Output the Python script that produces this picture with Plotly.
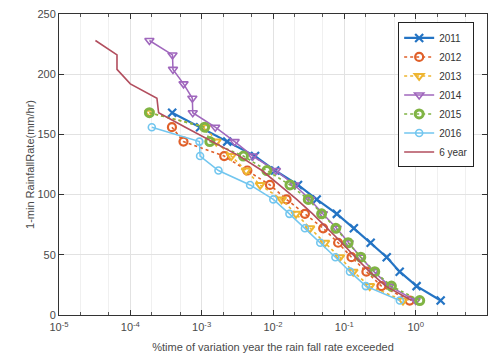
import plotly.graph_objects as go

rain_rate = [168, 156, 144, 132, 120, 108, 96, 84, 72, 60, 48, 36, 24, 12]

pct_2011 = [3.86e-4, 9.5e-4, 2.28e-3, 5.6e-3, 0.0107, 0.0224, 0.041, 0.0785, 0.136, 0.234, 0.393, 0.597, 1.03, 2.24]

rate_2012 = [156, 144, 132, 120, 108, 96, 84, 72, 60, 48, 36, 24, 12]
pct_2012 = [3.83e-4, 5.56e-4, 2.07e-3, 4.37e-3, 9.07e-3, 0.0155, 0.028, 0.0505, 0.0818, 0.126, 0.204, 0.331, 0.824]

rate_2013 = [168, 156, 144, 132, 120, 108, 96, 84, 72, 60, 48, 36, 24, 12]
pct_2013 = [1.85e-4, 1.15e-3, 1.6e-3, 2.6e-3, 4.2e-3, 6.6e-3, 0.0132, 0.021, 0.0329, 0.0533, 0.0864, 0.133, 0.227, 0.664]

rate_2014 = [228, 216, 204, 192, 180, 168, 156, 144, 132, 120, 108, 96, 84, 72, 60, 48, 36, 24, 12]
pct_2014 = [1.85e-4, 3.9e-4, 3.96e-4, 5.57e-4, 7.4e-4, 7.5e-4, 1.55e-3, 2.9e-3, 5.2e-3, 0.011, 0.02, 0.033, 0.05, 0.078, 0.115, 0.17, 0.26, 0.43, 1.0]

rate_2015 = [168, 156, 144, 132, 120, 108, 96, 84, 72, 60, 48, 36, 24, 12]
pct_2015 = [1.85e-4, 1.1e-3, 1.3e-3, 3.85e-3, 8.2e-3, 0.0173, 0.0312, 0.048, 0.076, 0.113, 0.17, 0.267, 0.457, 1.14]

rate_2016 = [156, 144, 132, 120, 108, 96, 84, 72, 60, 48, 36, 24, 12]
pct_2016 = [2.0e-4, 9.3e-4, 9.5e-4, 1.72e-3, 4.77e-3, 0.0101, 0.017, 0.028, 0.046, 0.075, 0.12, 0.2, 0.6]

rate_6year = [228, 216, 204, 192, 180, 168, 156, 144, 132, 120, 108, 96, 84, 72, 60, 48, 36, 24, 12]
pct_6year = [3.24e-5, 6.5e-5, 6.5e-5, 1.0e-4, 2.36e-4, 2.49e-4, 5.9e-4, 1.4e-3, 3.4e-3, 7.0e-3, 0.0125, 0.0215, 0.036, 0.058, 0.092, 0.143, 0.225, 0.38, 0.88]

x_tick_vals = [1e-5, 1e-4, 1e-3, 1e-2, 1e-1, 1e0, 1e1]
x_tick_text = ["10<sup>-5</sup>", "10<sup>-4</sup>", "10<sup>-3</sup>", "10<sup>-2</sup>",
               "10<sup>-1</sup>", "10<sup>0</sup>", "10<sup>1</sup>"]
y_tick_vals = [0, 50, 100, 150, 200, 250]

fig = go.Figure()

def add(name, x, y, color, symbol, dash, width=1.5, msize=7, mlw=1.8):
    fig.add_trace(go.Scatter(
        x=x, y=y, name=name, mode="lines+markers" if symbol else "lines",
        line=dict(color=color, width=width, dash=dash),
        marker=dict(symbol=symbol or "circle", size=msize, color=color,
                    line=dict(color=color, width=mlw)),
    ))

add("2011", pct_2011, rain_rate, "#2474c4", "x-thin-open", "solid", width=2.2, msize=8, mlw=2.2)
add("2012", pct_2012, rate_2012, "#e0602a", "circle-open", "dot", width=1.6, msize=8, mlw=2.2)
add("2013", pct_2013, rate_2013, "#eeb530", "triangle-down-open", "dot", width=1.6, msize=8, mlw=2)
add("2014", pct_2014, rate_2014, "#a067bd", "triangle-down-open", "solid", width=1.5, msize=8, mlw=1.6)
add("2015", pct_2015, rate_2015, "#80b444", "circle-open", "dot", width=1.6, msize=8, mlw=3)
add("2016", pct_2016, rate_2016, "#72c6ef", "circle-open", "solid", width=1.5, msize=7, mlw=1.6)
add("6 year", pct_6year, rate_6year, "#b24e5e", None, "solid", width=1.6)

axis_font = dict(family="Liberation Sans, Arial, sans-serif", size=11, color="#4a4a4a")

fig.update_layout(
    width=489, height=358,
    margin=dict(l=59, r=2, t=14, b=43, autoexpand=False),
    paper_bgcolor="white", plot_bgcolor="white",
    font=axis_font,
    showlegend=True,
    legend=dict(x=0.97, y=0.972, xanchor="right", yanchor="top",
                bgcolor="white", bordercolor="#222", borderwidth=1,
                font=dict(size=10, color="#333"), tracegroupgap=0,
                itemwidth=30),
)
fig.update_xaxes(
    type="log", range=[-5, 1], automargin=False,
    tickvals=x_tick_vals, ticktext=x_tick_text,
    ticks="inside", ticklen=5, tickcolor="#333", ticklabelstandoff=2,
    showgrid=True, gridcolor="#e2e2e2", gridwidth=1,
    minor=dict(ticks="inside", ticklen=3, tickcolor="#555", showgrid=True,
               gridcolor="#f0f0f0", gridwidth=1),
    showline=True, linecolor="#333", linewidth=1, mirror="ticks",
    zeroline=False,
    title=dict(text="%time of variation year the rain fall rate exceeded",
               standoff=11, font=dict(size=11, color="#4a4a4a")),
)
fig.update_yaxes(
    range=[0, 250], tickvals=y_tick_vals, automargin=False,
    ticks="inside", ticklen=5, tickcolor="#333",
    showgrid=True, gridcolor="#e2e2e2", gridwidth=1,
    showline=True, linecolor="#333", linewidth=1, mirror="ticks",
    zeroline=False,
    title=dict(text="1-min RainfallRate(mm/hr)", standoff=0,
               font=dict(size=11, color="#4a4a4a")),
)

fig.write_html("out.html", config={"displayModeBar": False},
               post_script="document.body.style.margin='0';document.body.style.overflow='hidden';")
